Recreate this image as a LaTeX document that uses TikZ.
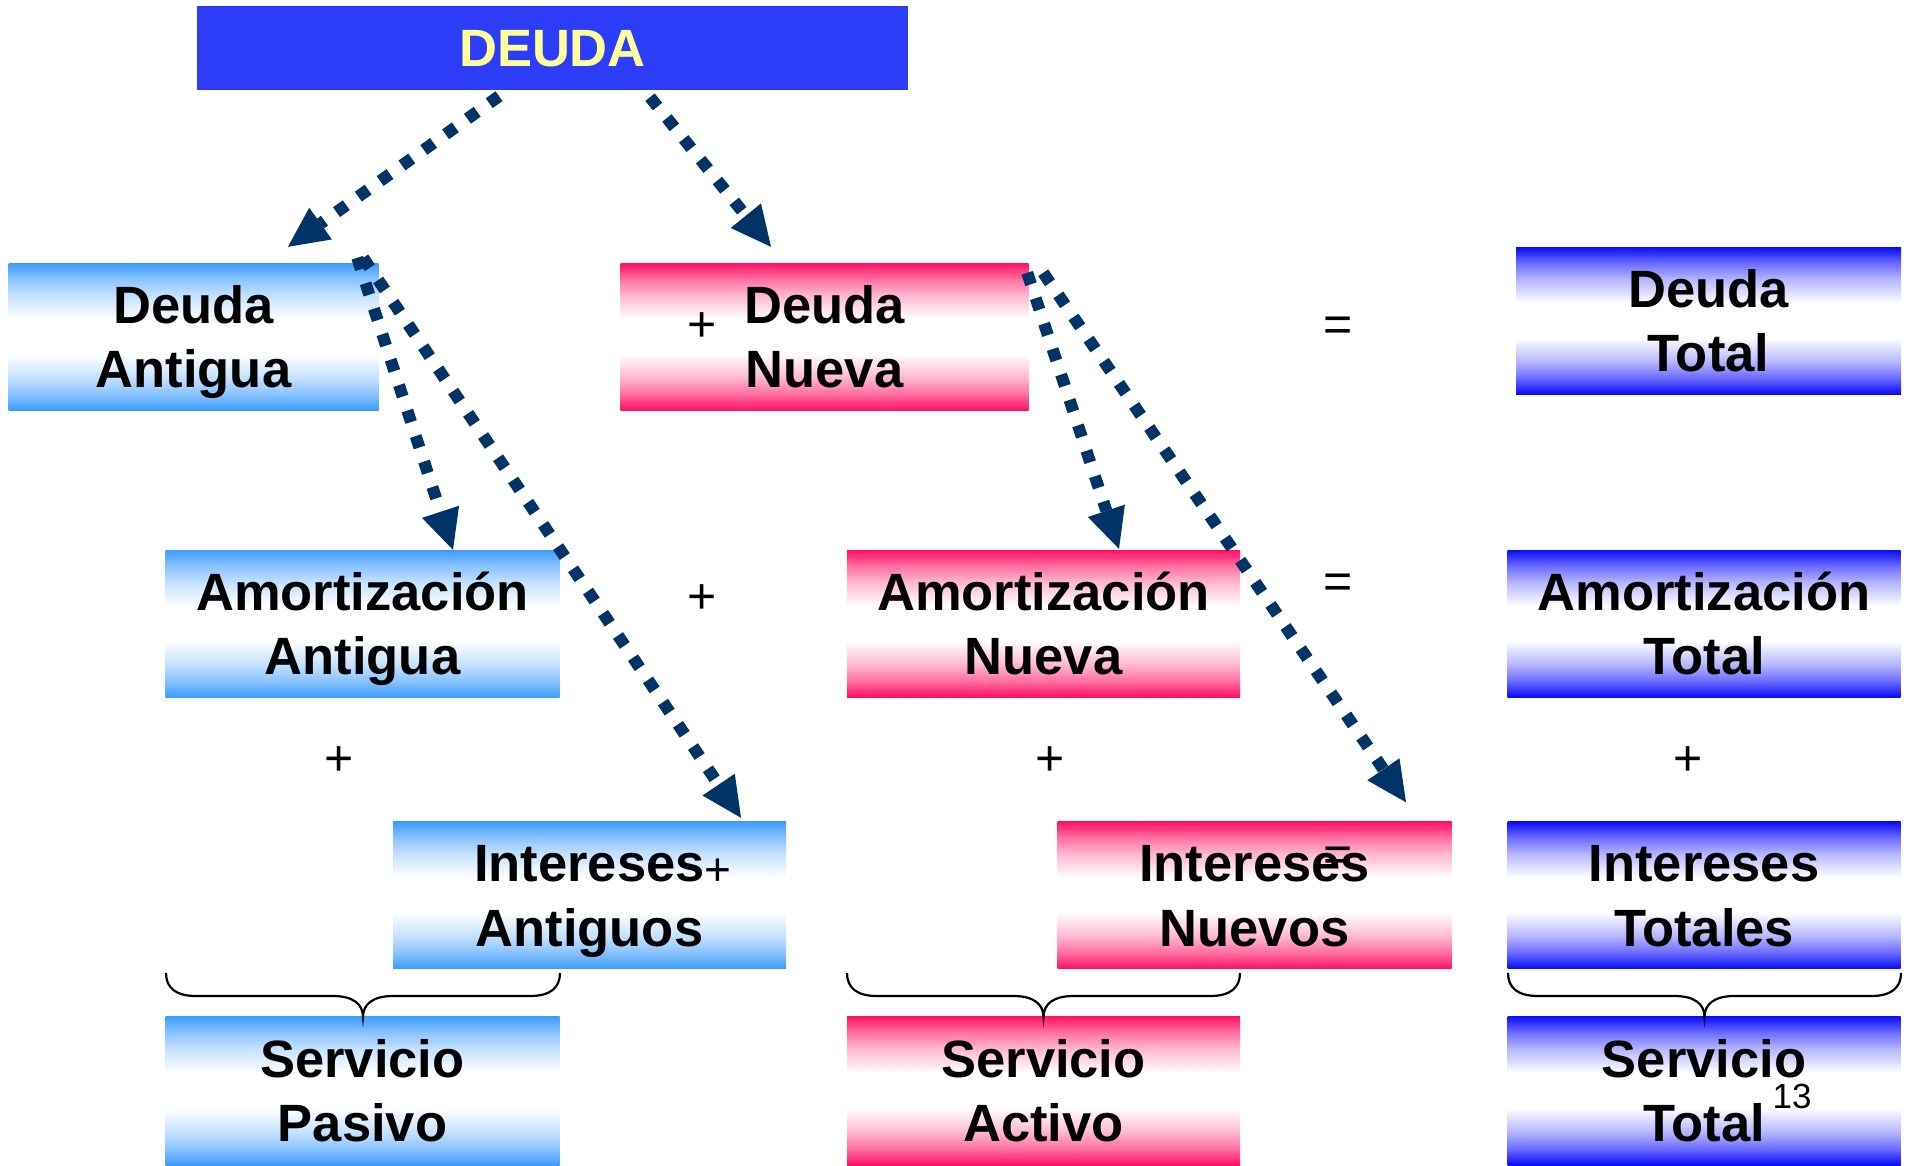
\documentclass[tikz,border=0pt]{standalone}
\usepackage{fontspec}
\setmainfont{Liberation Sans}
\usetikzlibrary{arrows.meta,calc}
\definecolor{lb}{RGB}{61,155,255}
\definecolor{pk}{RGB}{255,16,100}
\definecolor{bl}{RGB}{10,10,255}
\definecolor{titlebg}{RGB}{44,60,248}
\definecolor{titletx}{RGB}{255,255,153}
\definecolor{navy}{RGB}{0,51,102}
\newcommand\defshade[2]{%
\pgfdeclareverticalshading{#1}{100bp}{color(0bp)=(#2); color(25bp)=(#2); color(30.5bp)=(#2!60!white); color(36bp)=(#2!30!white); color(42bp)=(#2!8!white); color(44bp)=(white); color(56bp)=(white); color(58bp)=(#2!8!white); color(64bp)=(#2!30!white); color(69.5bp)=(#2!60!white); color(75bp)=(#2); color(100bp)=(#2)}}
\defshade{lbsh}{lb}
\defshade{pksh}{pk}
\defshade{blsh}{bl}
\newcommand\mybrace[2]{%
  \pgfmathsetmacro\brmid{(#1+#2)/2}%
  \draw[bracel] (#1,973) .. controls (#1,988) and ({#1+10},996) .. ({#1+30},996) -- ({\brmid-30},996) .. controls ({\brmid-10},996) and (\brmid,1004) .. (\brmid,1017) .. controls (\brmid,1004) and ({\brmid+10},996) .. ({\brmid+30},996) -- ({#2-30},996) .. controls ({#2-10},996) and (#2,988) .. (#2,973);}
\begin{document}
\begin{tikzpicture}[x=1pt,y=-1pt,
  box/.style={rectangle, inner sep=0pt, minimum height=147pt, align=center,
     font=\bfseries\fontsize{52.5}{64.5}\selectfont, text height=102.1pt, text depth=0pt},
  lbbox/.style={box, shade, shading=lbsh},
  pkbox/.style={box, shade, shading=pksh},
  blbox/.style={box, shade, shading=blsh},
  sign/.style={anchor=base, inner sep=0pt, font=\fontsize{50}{60}\selectfont},
  darrow/.style={draw=navy, line width=12pt, dash pattern=on 12pt off 14.8pt,
     -{Triangle[length=40pt,width=39pt,line width=0pt]}},
  bracel/.style={draw=black, line width=2.2pt}
]
\useasboundingbox (0,0) rectangle (1908,1165);
\fill[white] (0,0) rectangle (1908,1165);
% boxes
\node[box, fill=titlebg, minimum width=711pt, minimum height=84pt, text=titletx, text height=37.6pt] (deuda) at (552.5,48) {DEUDA};
\node[lbbox, minimum width=370pt] (da) at (193.5,336.5) {Deuda\\Antigua};
\node[pkbox, minimum width=408pt] (dn) at (824.5,336.5) {Deuda\\Nueva};
\node[blbox, minimum width=385pt] (dt) at (1708.5,320.5) {Deuda\\Total};
\node[lbbox, minimum width=394pt] (aa) at (362.5,623.5) {Amortización\\Antigua};
\node[pkbox, minimum width=393pt] (an) at (1043.5,623.5) {Amortización\\Nueva};
\node[blbox, minimum width=393pt] (at) at (1704,623.5) {Amortización\\Total};
\node[lbbox, minimum width=393pt] (ia) at (589.5,895) {Intereses\\Antiguos};
\node[pkbox, minimum width=394pt] (in) at (1254.5,895) {Intereses\\Nuevos};
\node[blbox, minimum width=393pt] (it) at (1704,895) {Intereses\\Totales};
\node[lbbox, minimum width=394pt, minimum height=149pt] (sp) at (362.5,1090.5) {Servicio\\Pasivo};
\node[pkbox, minimum width=393pt, minimum height=149pt] (sa) at (1043.5,1090.5) {Servicio\\Activo};
\node[blbox, minimum width=393pt, minimum height=149pt] (st) at (1704,1090.5) {Servicio\\Total};
% signs
\node[sign] (p1) at (702,341.6) {+};
\node[sign] (e1) at (1338,341.7) {=};
\node[sign] (p2) at (702,613.6) {+};
\node[sign] (e2) at (1338,598.7) {=};
\node[sign] (p3) at (339.5,775.6) {+};
\node[sign] (p4) at (1050,775.6) {+};
\node[sign] (p5) at (1688,775.6) {+};
\node[sign, font=\fontsize{46}{56}\selectfont] (p6) at (718,885) {+};
\node[sign] (e3) at (1338,871.7) {=};
\node[anchor=base, inner sep=0pt, font=\fontsize{35}{42}\selectfont] (pg) at (1792,1108) {13};
% arrows
\draw[darrow] ($(deuda.south)+(-53.5,6)$) -- ($(da.north)+(94.5,-16)$);
\draw[darrow] ($(deuda.south)+(97.5,7)$) -- ($(dn.north)+(-53.5,-16)$);
\draw[darrow] ($(da.north east)+(-21.5,-5)$) -- ($(aa.north)+(90.5,0)$);
\draw[darrow] ($(da.north east)+(-15.5,-5)$) -- ($(ia.north)+(151.5,-3.5)$);
\draw[darrow] ($(dn.north east)+(-1.5,10)$) -- ($(an.north)+(75.5,-1)$);
\draw[darrow] ($(dn.north east)+(14.5,10)$) -- ($(in.north)+(151.5,-19)$);
% braces
\mybrace{166}{560}
\mybrace{847}{1240}
\mybrace{1508}{1901}
\end{tikzpicture}
\end{document}
